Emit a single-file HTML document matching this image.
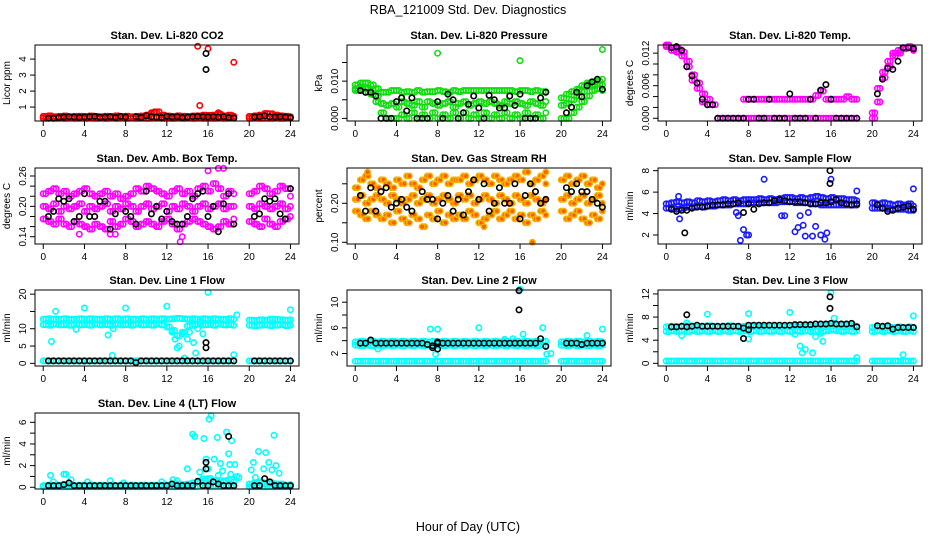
<!DOCTYPE html>
<html><head><meta charset="utf-8"><style>
body{margin:0;background:#fff}
svg{display:block;font-family:"Liberation Sans",Arial,sans-serif}
</style></head><body>
<svg id="c" width="936" height="540" viewBox="0 0 936 540">
<text x="468" y="14" text-anchor="middle" font-size="12.5">RBA_121009  Std. Dev. Diagnostics</text>
<text x="468" y="531" text-anchor="middle" font-size="12.5">Hour of Day (UTC)</text>
</svg>
<script>
const T=[0,0.5,1,1.5,2,2.5,3,3.5,4,4.5,5,5.5,6,6.5,7,7.5,8,8.5,9,9.5,10,10.5,11,11.5,12,12.5,13,13.5,14,14.5,15,15.5,16,16.5,17,17.5,18,18.5,20,20.5,21,21.5,22,22.5,23,23.5,24];
const xTicks=[0,4,8,12,16,20,24];
// CO2
const co2A=[0.42,0.45,0.4,0.42,0.44,0.4,0.42,0.43,0.41,0.44,0.42,0.4,0.43,0.42,0.45,0.41,0.43,0.4,0.42,0.44,0.5,0.65,0.7,0.5,0.44,0.42,0.45,0.43,0.41,0.44,0.45,0.5,0.48,0.5,0.55,0.45,0.5,0.43,0.42,0.45,0.5,0.6,0.58,0.5,0.45,0.43,0.4];
const co2B=[0.3,0.32,0.3,0.31,0.3,0.32,0.3,0.31,0.3,0.32,0.3,0.31,0.3,0.32,0.3,0.31,0.3,0.32,0.3,0.31,0.3,0.32,0.35,0.3,0.31,0.3,0.32,0.3,0.31,0.3,0.32,0.3,0.31,0.3,0.32,0.3,0.31,0.3,0.3,0.32,0.3,0.31,0.3,0.32,0.3,0.31,0.3];
const co2K=[null,0.3,0.3,0.35,0.38,0.4,0.38,0.36,0.38,0.4,0.42,0.36,0.38,0.4,0.35,0.42,0.38,null,0.4,0.35,0.45,0.4,0.38,0.35,0.42,0.38,0.4,0.35,0.38,0.4,0.42,0.4,0.38,0.4,0.38,0.4,0.35,0.32,null,0.38,0.4,0.45,0.4,0.38,0.4,0.38,0.35];
const co2OutX=[15,15.2,16,18.5,17,10.8,10.5];
const co2OutY=[4.8,1.1,4.65,3.8,0.65,0.7,0.6];
const co2KOutX=[15.8,15.8];
const co2KOutY=[4.35,3.35];
// Pressure
const prA=[0.009,0.0095,0.0095,0.009,0.008,0.007,0.007,0.0075,0.0075,0.007,0.0072,0.007,0.0075,0.007,0.0072,0.0072,0.0075,0.0072,0.007,0.0075,0.0072,0.0075,0.0075,0.0075,0.0075,0.0075,0.0075,0.0075,0.0075,0.0075,0.0075,0.0072,0.0075,0.0075,0.0072,0.0075,0.0072,0.0072,0.0055,0.0065,0.0072,0.0078,0.0088,0.0095,0.0098,0.01,0.0105];
const prB=[0.008,0.0085,0.008,0.0075,0.006,0.004,0.0035,0.004,0.003,0.0045,0.004,0.0035,0.0045,0.003,0.0045,0.004,0.0035,0.004,0.0045,0.003,0.004,0.0045,0.0035,0.004,0.0045,0.004,0.0045,0.004,0.0035,0.0045,0.004,0.0045,0.004,0.0035,0.0045,0.004,0.0035,0.0045,0.0035,0.004,0.005,0.006,0.0072,0.0085,0.009,0.0092,0.009];
const prC=[0.0075,0.0078,0.007,0.0065,0.0045,0.0015,0,0,0,0.001,0,0.0015,0,0.001,0,0.0015,0,0.001,0,0.0015,0,0.0015,0,0.001,0,0.0015,0,0.001,0,0.0015,0,0.001,0,0.0015,0,0.001,0,0.0015,0,0,0.0015,0.003,0.0045,0.006,0.0075,0.008,0.0075];
const prK=[null,0.0075,0.007,0.007,0.006,0,0,0,0.0045,0.0055,0.002,0.0055,0,0,0,null,0.0045,0,0.0065,0.005,0,0.0015,0.0038,0.006,0.0028,0,0.0062,0.005,0.0028,0.0028,0.006,0.0035,0.0065,0,0,0,0.0055,0.007,null,0.0015,0.003,0.007,0.0058,0.0088,0.0098,0.0105,0.0078];
const prOutX=[8,16,24];
const prOutY=[0.0175,0.0155,0.0185];
// Temp
const tA=[0.0135,0.013,0.0128,0.0122,0.0105,0.008,0.0065,0.0045,0.0035,null,null,null,null,null,null,0.0035,0.0035,0.0035,0.0035,0.0035,0.0035,0.0035,0.0035,0.0035,0.0035,0.0035,0.0035,0.0035,0.0035,0.0042,0.005,0.0035,0.0035,0.0035,0.0035,0.004,0.0035,0.0035,0.001,0.0055,0.0085,0.0105,0.012,0.0125,0.013,0.0132,0.013];
const tB=[0.0132,0.0125,0.0122,0.0115,0.0095,0.007,0.0055,0.003,0.0025,0.0025,0,0,0,0,0,0,0,0,0,0,0,0,0,0,0,0,0,0,0,0,0,0,0,0,0,0,0,0,0,0.003,0.0075,0.0095,0.0115,0.012,0.0128,0.013,0.0125];
const tK=[null,0.013,0.0132,0.0125,0.0095,0.0078,0.0065,0.0035,0.0025,0.0025,0,0,0,0,0,0,0.0035,0.0035,0,0,0.0035,0,0,0,0.0045,0,0,0,0.0035,0,0.0052,0.0062,0.0035,0,0,0,0,0,null,0.0045,0.0072,0.0092,0.009,0.0105,0.013,0.013,0.0128];
// Amb box temp
const aA=[0.225,0.23,0.235,0.225,0.23,0.22,0.225,0.23,0.235,0.225,0.22,0.225,0.23,0.22,0.225,0.215,0.22,0.225,0.235,0.23,0.24,0.235,0.23,0.225,0.22,0.23,0.235,0.225,0.23,0.22,0.235,0.24,0.23,0.245,0.235,0.22,0.23,0.225,0.225,0.23,0.24,0.235,0.225,0.23,0.24,0.235,0.22];
const aB=[0.2,0.195,0.205,0.19,0.2,0.195,0.2,0.205,0.19,0.2,0.195,0.2,0.205,0.19,0.2,0.195,0.205,0.2,0.19,0.2,0.205,0.195,0.2,0.205,0.19,0.2,0.195,0.205,0.2,0.19,0.2,0.205,0.195,0.2,0.205,0.195,0.2,0.2,0.2,0.195,0.205,0.2,0.195,0.2,0.205,0.195,0.2];
const aC=[0.175,0.17,0.165,0.175,0.165,0.16,0.17,0.165,0.16,0.155,0.165,0.16,0.155,0.17,0.16,0.165,0.175,0.17,0.16,0.165,0.17,0.165,0.16,0.17,0.175,0.165,0.155,0.165,0.17,0.175,0.17,0.165,0.16,0.155,0.16,0.17,0.165,0.175,0.17,0.165,0.16,0.175,0.165,0.16,0.17,0.175,0.18];
const aK=[null,0.18,0.19,0.215,0.21,0.215,0.17,0.18,0.225,0.18,0.18,0.21,0.21,0.155,0.185,null,0.19,0.18,0.165,null,0.23,0.185,0.2,0.175,0.19,0.17,0.165,0.165,0.18,0.215,0.225,0.23,0.18,0.2,0.15,0.205,0.225,0.165,null,0.18,0.185,0.215,0.21,0.215,0.185,0.175,0.235];
const aOutX=[6.5,7,13.3,13.5,16,17,17.5,3.5];
const aOutY=[0.145,0.145,0.13,0.14,0.27,0.275,0.275,0.145];
// Gas stream RH
const rA=[0.24,0.26,0.27,0.25,0.24,0.26,0.25,0.24,0.26,0.25,0.27,0.25,0.24,0.26,0.27,0.25,0.26,0.27,0.25,0.26,0.26,0.27,0.25,0.26,0.27,0.26,0.25,0.27,0.26,0.25,0.26,0.27,0.26,0.28,0.25,0.26,0.27,0.25,0.26,0.27,0.25,0.26,0.27,0.25,0.26,0.24,0.25];
const rB=[0.21,0.22,0.2,0.21,0.22,0.21,0.2,0.22,0.21,0.2,0.21,0.22,0.2,0.21,0.22,0.2,0.21,0.22,0.21,0.2,0.22,0.21,0.22,0.2,0.21,0.22,0.21,0.2,0.22,0.21,0.2,0.22,0.21,0.2,0.22,0.21,0.2,0.21,0.21,0.22,0.2,0.21,0.22,0.2,0.21,0.22,0.2];
const rC=[0.18,0.17,0.16,0.18,0.17,0.16,0.17,0.15,0.18,0.16,0.15,0.17,0.16,0.14,0.17,0.16,0.18,0.15,0.17,0.16,0.17,0.16,0.18,0.17,0.15,0.16,0.17,0.18,0.16,0.17,0.18,0.16,0.17,0.15,0.17,0.16,0.18,0.17,0.18,0.16,0.17,0.18,0.16,0.15,0.17,0.16,0.18];
const rK=[null,0.22,0.18,0.24,0.18,0.23,0.24,0.19,0.2,0.21,0.19,0.18,null,0.23,0.21,0.21,0.16,0.2,0.22,0.18,0.21,0.17,0.23,0.26,0.21,0.25,0.18,0.2,0.24,0.2,0.2,0.25,0.16,0.22,0.25,0.23,0.2,0.21,null,0.24,0.23,0.25,0.23,0.23,0.21,0.2,0.19];
const rOutX=[1.2,17.2,12.5,6.5,18.5];
const rOutY=[0.28,0.1,0.14,0.14,0.28];
// Sample flow
const sA=[4.9,5.0,5.1,5.0,5.1,5.0,5.2,5.1,5.2,5.1,5.2,5.3,5.2,5.3,5.2,5.3,5.3,5.3,5.4,5.3,5.4,5.3,5.4,5.5,5.5,5.4,5.5,5.4,5.5,5.6,5.5,5.4,5.5,5.4,5.4,5.3,5.3,5.2,5.0,4.9,5.0,4.9,4.8,4.9,4.8,4.9,4.7];
const sB=[4.5,4.5,4.4,4.5,4.6,4.6,4.7,4.6,4.7,4.7,4.8,4.8,4.8,4.9,4.9,4.9,5.0,5.0,5.0,5.0,5.0,5.0,5.1,5.1,5.1,5.0,5.0,5.0,4.9,4.9,4.8,4.8,4.8,4.8,4.8,4.8,4.8,4.8,4.5,4.5,4.5,4.4,4.4,4.4,4.4,4.3,4.3];
const sK=[null,4.4,4.2,4.3,4.3,4.5,4.6,4.6,4.7,4.8,4.8,4.8,4.9,4.9,5.0,4.1,4.9,4.4,4.9,5.0,5.0,5.2,5.3,5.2,5.1,5.1,5.1,5.0,4.9,4.9,5.0,5.0,5.1,5.3,5.0,4.9,4.8,4.9,null,4.8,4.5,4.2,4.3,4.5,4.6,4.7,4.4];
const sOutX=[1.2,1.3,7.2,7.5,8,7,7.8,9.5,12.5,12.8,13.3,13.5,14.2,14.5,15,15.4,15.6,16,18.5,24,6.8,13,13.8,11.2,11.5];
const sOutY=[5.6,3.5,1.5,2.5,2.0,3.8,2.0,7.2,2.3,2.7,2.9,1.9,1.9,2.8,2.0,1.6,2.2,7.2,6.1,6.3,4.1,3.8,4.1,3.8,3.8];
const sKOutX=[1.8,15.9,15.9];
const sKOutY=[2.2,8.0,6.8];
// Line 1
const l1A=[12.8,12.9,12.7,12.8,12.9,12.8,12.7,12.9,12.8,12.9,12.8,12.7,12.9,12.8,12.9,12.8,12.9,12.8,12.7,12.9,12.8,12.9,12.8,12.9,12.8,12.9,13,12.9,12.8,12.9,12.8,12.9,12.8,12.9,12.8,12.7,12.9,12.8,12.5,12.4,12.6,12.5,12.8,12.7,12.6,12.5,12.6];
const l1B=[11.2,11,11.3,11.1,11.2,11,11.3,11.1,11.2,11,11.3,11.1,11.2,11,11.3,11.1,11.2,11,11.3,11.1,11.2,11,11.3,11.1,10.5,9.5,8,9,10.8,11,11.3,11.1,11.2,11,11.3,11.1,11.2,11,11,10.8,11,11.1,10.9,11,11.2,10.9,11];
const l1C=[0.7,0.7,0.7,0.7,0.7,0.7,0.7,0.7,0.7,0.7,0.7,0.7,0.7,0.7,0.7,0.7,0.7,0.7,0.7,0.7,0.7,0.7,0.7,0.7,0.7,0.7,0.7,0.7,0.7,0.7,0.7,0.7,0.7,0.7,0.7,0.7,0.7,0.7,0.7,0.7,0.7,0.7,0.7,0.7,0.7,0.7,0.7];
const l1K=[null,0.7,0.7,0.7,0.7,0.7,0.7,0.7,0.7,0.7,0.7,0.7,0.7,0.7,0.7,0.7,0.7,0.7,0.2,0.7,0.7,0.7,0.7,0.7,0.7,0.7,0.7,0.7,0.7,0.7,0.7,0.7,0.7,0.7,0.7,0.7,0.7,0.7,null,0.7,0.7,0.7,0.7,0.7,0.7,0.7,0.7];
const l1OutX=[0.8,1.2,4,6.3,6.7,8,12,12.5,12.8,13,13.2,13.5,14,14.2,14.6,15,15.2,15.5,16,18.5,18.8,24,3.2,6.8,13.7,14.8];
const l1OutY=[6.3,15,16,8.2,2.3,16,16.5,9,7,4.5,5,8.5,7,9,6,10,12,8.5,20.5,2.5,14,15.5,9.8,10,1.5,3];
const l1KOutX=[15.8,15.8];
const l1KOutY=[6,4.5];
// Line 2
const l2A=[3.8,3.9,3.8,3.9,3.8,3.9,3.8,3.9,3.8,3.9,3.8,3.9,3.8,3.9,3.8,3.9,3.8,3.9,3.8,3.9,3.8,3.9,3.8,3.9,3.8,3.9,3.8,3.9,3.8,3.9,3.8,3.9,3.8,3.9,3.8,3.9,3.8,3.9,3.8,3.9,3.8,3.9,3.8,3.9,3.8,3.9,3.8];
const l2B=[3.3,3.2,3.3,3.2,3.3,3.2,3.3,3.2,3.3,3.2,3.3,3.2,3.3,3.2,3.3,3.2,3.3,3.2,3.3,3.2,3.3,3.2,3.3,3.2,3.3,3.2,3.3,3.2,3.3,3.2,3.3,3.2,3.3,3.2,3.3,3.2,3.3,3.2,3.3,3.2,3.3,3.2,3.3,3.2,3.3,3.2,3.3];
const l2C=[0.8,0.8,0.8,0.8,0.8,0.8,0.8,0.8,0.8,0.8,0.8,0.8,0.8,0.8,0.8,0.8,0.8,0.8,0.8,0.8,0.8,0.8,0.8,0.8,0.8,0.8,0.8,0.8,0.8,0.8,0.8,0.8,0.8,0.8,0.8,0.8,0.8,0.8,0.8,0.8,0.8,0.8,0.8,0.8,0.8,0.8,0.8];
const l2K=[null,3.6,3.6,4.1,3.6,3.6,3.6,3.6,3.6,3.6,3.6,3.6,3.6,3.6,3.4,3.2,3.6,3.6,3.6,3.6,3.6,3.6,3.6,3.6,3.6,3.6,3.6,3.6,3.6,3.6,3.6,3.6,3.6,3.6,3.6,3.6,4.3,3.1,null,3.6,3.6,3.6,3.4,3.6,3.6,3.6,3.6];
const l2OutX=[2.2,7.3,8,12,15.3,16,16.3,18.2,18.6,22.5,24,7.8,14.5,19];
const l2OutY=[2.7,5.8,5.8,6,4.3,12,5,6,1.9,4.8,5.8,1.9,4.2,2];
const l2KOutX=[15.9,15.9,8,8,7.5];
const l2KOutY=[11.8,8.8,2.7,3.8,2.9];
// Line 3
const l3A=[6.3,6.4,6.3,6.4,6.5,6.4,6.3,6.4,6.5,6.4,6.3,6.4,6.5,6.4,6.3,6.4,6.5,6.4,6.3,6.4,6.5,6.4,6.3,6.4,6.5,6.4,6.3,6.4,6.5,6.4,6.5,6.6,6.5,6.6,6.5,6.6,6.5,6.4,6.2,6.3,6.2,6.3,6.2,6.3,6.2,6.3,6.2];
const l3B=[5.5,5.6,5.5,5.6,5.5,5.6,5.5,5.6,5.5,5.6,5.5,5.6,5.5,5.6,5.5,5.6,5.5,5.6,5.5,5.6,5.5,5.6,5.5,5.6,5.5,5.6,5.5,5.6,5.5,5.6,5.5,5.6,5.8,5.6,5.5,5.6,5.5,5.6,5.5,5.6,5.5,5.6,5.5,5.6,5.5,5.6,5.5];
const l3C=[0.4,0.4,0.4,0.4,0.4,0.4,0.4,0.4,0.4,0.4,0.4,0.4,0.4,0.4,0.4,0.4,0.4,0.4,0.4,0.4,0.4,0.4,0.4,0.4,0.4,0.4,0.4,0.4,0.4,0.4,0.4,0.4,0.4,0.4,0.4,0.4,0.4,0.4,0.4,0.4,0.4,0.4,0.4,0.4,0.4,0.4,0.4];
const l3K=[null,6.3,6.3,6.4,6.3,6.4,6.6,6.4,6.4,6.4,6.4,6.4,6.4,6.4,6.4,6.1,6.6,6.6,6.6,6.6,6.6,6.6,6.6,6.6,6.6,6.7,6.7,6.7,6.7,6.8,6.8,6.8,6.9,6.8,6.8,6.8,6.9,6.3,null,6.5,6.4,6.5,5.9,6.2,6.2,6.2,6.2];
const l3OutX=[1.5,2,4,8,12,12.5,13,13.5,14,14.5,15,15.2,16,16.3,14.2,13.2,8,18.5,23,24];
const l3OutY=[4.8,7,8.5,8.6,8.8,5,3,2.4,5.5,4.6,5.2,3.8,12.2,7.8,1.8,1.8,4.2,1,1.5,8.2];
const l3KOutX=[2,7.5,8,15.9,15.9];
const l3KOutY=[8.4,4.3,5.8,11.5,9.5];
// Line 4
const l4A=[0.15,0.2,0.15,0.2,0.15,0.2,0.15,0.2,0.15,0.2,0.15,0.2,0.15,0.2,0.15,0.2,0.15,0.2,0.15,0.2,0.15,0.2,0.15,0.2,0.2,0.3,0.3,0.25,0.3,0.4,0.5,0.6,0.8,0.6,0.5,0.6,0.7,0.5,0.3,0.4,0.5,0.3,0.4,0.3,0.3,0.2,0.25];
const l4B=[0.05,0.05,0.05,0.05,0.05,0.05,0.05,0.05,0.05,0.05,0.05,0.05,0.05,0.05,0.05,0.05,0.05,0.05,0.05,0.05,0.05,0.05,0.05,0.05,0.05,0.05,0.05,0.05,0.05,0.05,0.1,0.1,0.1,0.1,0.1,0.1,0.1,0.1,0.05,0.05,0.05,0.05,0.05,0.05,0.05,0.05,0.05];
const l4K=[null,0.15,0.15,0.15,0.25,0.4,0.15,0.15,0.15,0.15,0.15,0.15,0.15,0.15,0.15,0.15,0.15,0.15,0.15,0.15,0.15,0.15,0.15,0.15,0.15,0.3,0.15,0.15,0.15,0.15,0.55,0.15,0.15,0.5,0.3,0.15,0.15,0.15,null,0.15,0.15,0.8,0.5,0.15,0.15,0.15,0.15];
const l4OutX=[0.7,1,2,2.2,2.7,4.3,6.5,7.8,11.5,12.6,13,14,14.5,14.7,15.2,15.6,15.8,16.1,16.3,16.6,16.9,17.2,17.4,17.8,18,18.1,18.3,18.6,18.8,20.2,20.4,20.6,20.9,21.4,21.6,21.9,22.2,22.4,22.6,22.9,16,17,15.5,17.5,18.2,19];
const l4OutY=[1.1,0.5,1.2,1.2,0.7,0.5,0.6,0.4,0.5,0.7,0.6,1.7,4.9,4.7,1.4,4.5,2.6,6.3,6.6,2.6,4.6,2.2,1.5,5.1,3.1,2.1,4.3,2.1,1,1.6,2.3,0.9,3.3,1.7,3.2,2.3,1.6,4.8,2,1.3,1.7,1.1,0.8,0.5,1.2,0.9];
const l4KOutX=[15.8,15.8,18];
const l4KOutY=[2.3,1.7,4.7];

const NS='http://www.w3.org/2000/svg';
const svg=document.getElementById('c');
const colL=[35,347,658], rowT=[45,168,290,413], BW=264, BH=76, PXH=10.3;
function mk(tag,at,parent){const e=document.createElementNS(NS,tag);for(const k in at)e.setAttribute(k,at[k]);(parent||svg).appendChild(e);return e;}
const panels=[
 {c:0,r:0,name:'co2',title:'Stan. Dev. Li-820 CO2',yl:'Licor ppm',lim:[0.13,4.88],ticks:[1,2,3,4],labs:['1','2','3','4'],
  s:[[T,co2A,'#ff0000'],[T,co2B,'#ff0000'],[co2OutX,co2OutY,'#ff0000'],[T,co2K,'#000'],[co2KOutX,co2KOutY,'#000']]},
 {c:1,r:0,name:'pressure',title:'Stan. Dev. Li-820 Pressure',yl:'kPa',lim:[-0.0007,0.0197],ticks:[0,0.005,0.01,0.015],labs:['0.000','','0.010',''],
  s:[[T,prA,'#11dd11'],[T,prB,'#11dd11'],[T,prC,'#11dd11'],[prOutX,prOutY,'#11dd11'],[T,prK,'#000']]},
 {c:2,r:0,name:'temp',title:'Stan. Dev. Li-820 Temp.',yl:'degrees C',lim:[-0.0005,0.0135],ticks:[0,0.002,0.004,0.006,0.008,0.01,0.012],labs:['0.000','','','0.006','','','0.012'],
  s:[[T,tA,'#ff00ff'],[T,tB,'#ff00ff'],[T,tK,'#000']]},
 {c:0,r:1,name:'amb-box-temp',title:'Stan. Dev. Amb. Box Temp.',yl:'degrees C',lim:[0.1256,0.2758],ticks:[0.14,0.16,0.18,0.2,0.22,0.24,0.26],labs:['0.14','','','0.20','','','0.26'],
  s:[[T,aA,'#ff00ff'],[T,aB,'#ff00ff'],[T,aC,'#ff00ff'],[aOutX,aOutY,'#ff00ff'],[T,aK,'#000']]},
 {c:1,r:1,name:'gas-rh',title:'Stan. Dev. Gas Stream RH',yl:'percent',lim:[0.0956,0.2905],ticks:[0.1,0.15,0.2,0.25],labs:['0.10','','0.20',''],
  s:[[T,rA,'#f2b400'],[T,rB,'#f2b400'],[T,rC,'#f2b400'],[rOutX,rOutY,'#f2b400'],[T,rK,'#000']]},
 {c:2,r:1,name:'sample-flow',title:'Stan. Dev. Sample Flow',yl:'ml/min',lim:[1.16,8.25],ticks:[2,4,6,8],labs:['2','4','6','8'],
  s:[[T,sA,'#1a1aff'],[T,sB,'#1a1aff'],[sOutX,sOutY,'#1a1aff'],[T,sK,'#000'],[sKOutX,sKOutY,'#000']]},
 {c:0,r:2,name:'line1-flow',title:'Stan. Dev. Line 1 Flow',yl:'ml/min',lim:[-0.77,21.2],ticks:[0,5,10,15,20],labs:['0','5','10','','20'],
  s:[[T,l1A,'#00ffff'],[T,l1B,'#00ffff'],[T,l1C,'#00ffff'],[l1OutX,l1OutY,'#00ffff'],[T,l1K,'#000'],[l1KOutX,l1KOutY,'#000']]},
 {c:1,r:2,name:'line2-flow',title:'Stan. Dev. Line 2 Flow',yl:'ml/min',lim:[0.05,11.9],ticks:[2,4,6,8,10],labs:['2','','6','','10'],
  s:[[T,l2A,'#00ffff'],[T,l2B,'#00ffff'],[T,l2C,'#00ffff'],[l2OutX,l2OutY,'#00ffff'],[T,l2K,'#000'],[l2KOutX,l2KOutY,'#000']]},
 {c:2,r:2,name:'line3-flow',title:'Stan. Dev. Line 3 Flow',yl:'ml/min',lim:[-0.46,12.68],ticks:[0,2,4,6,8,10,12],labs:['0','','4','','8','','12'],
  s:[[T,l3A,'#00ffff'],[T,l3B,'#00ffff'],[T,l3C,'#00ffff'],[l3OutX,l3OutY,'#00ffff'],[T,l3K,'#000'],[l3KOutX,l3KOutY,'#000']]},
 {c:0,r:3,name:'line4-flow',title:'Stan. Dev. Line 4 (LT) Flow',yl:'ml/min',lim:[-0.16,6.86],ticks:[0,1,2,3,4,5,6],labs:['0','','2','','4','','6'],
  s:[[T,l4A,'#00ffff'],[T,l4B,'#00ffff'],[l4OutX,l4OutY,'#00ffff'],[T,l4K,'#000'],[l4KOutX,l4KOutY,'#000']]}
];
panels.forEach(p=>{
  const L=colL[p.c], Tp=rowT[p.r], B=Tp+BH;
  const xs=h=>L+(h+0.8)*PXH;
  const ys=v=>B-(v-p.lim[0])/(p.lim[1]-p.lim[0])*BH;
  const g=mk('g',{});
  
  
  const t=mk('text',{x:L+BW/2,y:Tp-6,'text-anchor':'middle','font-size':'11','font-weight':'bold'},g);t.textContent=p.title;
  
  
  const pts=mk('g',{fill:'none','stroke-width':'1.6'},g);
  
  
  p.s.forEach(s=>{
    const [X,Y,col]=s;
    const black=col==='#000';
    X.forEach((h,i)=>{const v=Y[i]; if(v===null||v===undefined)return;
      const offs=(!black&&X===T&&h!==18.5&&h!==24)?[0,0.25]:[0];
      offs.forEach(o=>{
        const c=mk('circle',{cx:xs(h+o).toFixed(1),cy:ys(v).toFixed(1),r:black?2.7:2.7,stroke:col,fill:col==='#f2b400'?'#ff5a00':'none'},pts);
        
        
      });
    });
  });
  const box=mk('rect',{x:L,y:Tp,width:BW,height:BH,fill:'none',stroke:'#000','stroke-width':'1'},g);
  
  
  const xa=mk('g',{},g);
  
  
  xTicks.forEach(h=>{const x=xs(h);mk('line',{x1:x,x2:x,y1:B,y2:B+5,stroke:'#000'},xa);
    const tl=mk('text',{x:x,y:B+16,'text-anchor':'middle','font-size':'10'},xa);tl.textContent=h;});
  const ya=mk('g',{},g);
  
  
  p.ticks.forEach((v,i)=>{const y=ys(v);mk('line',{x1:L-5,x2:L,y1:y,y2:y,stroke:'#000'},ya);
    if(p.labs[i]){const tl=mk('text',{x:0,y:0,'text-anchor':'middle','font-size':'10',transform:`translate(${L-9},${y}) rotate(-90)`},ya);tl.textContent=p.labs[i];}});
  const yl=mk('text',{x:0,y:0,'text-anchor':'middle','font-size':'10',transform:`translate(${L-25},${Tp+BH/2}) rotate(-90)`},g);yl.textContent=p.yl;
  
  
});
</script>
</body></html>
